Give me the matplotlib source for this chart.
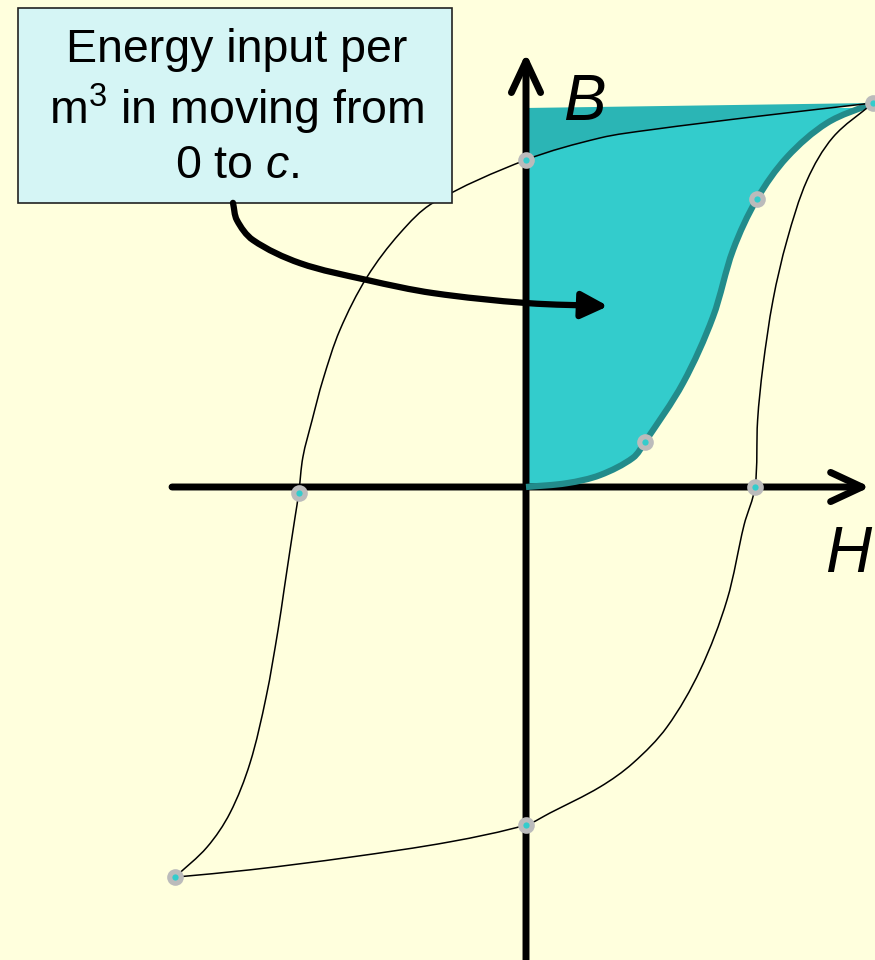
import numpy as np
import matplotlib.pyplot as plt
from matplotlib.path import Path
from matplotlib.patches import PathPatch, Rectangle, FancyArrowPatch

plt.rcParams['font.family'] = ['Liberation Sans', 'DejaVu Sans']
plt.rcParams['mathtext.fontset'] = 'custom'
plt.rcParams['mathtext.rm'] = 'Liberation Sans'
plt.rcParams['mathtext.it'] = 'Liberation Sans:italic'

# hysteresis loop, H and B in normalised units
# upper branch: from tip c down to the negative tip
down_h = [1.509, 1.017, 0.539, 0.322, 0.0, -0.404, -0.548, -0.691, -0.809, -0.883,
          -0.930, -0.970, -0.988, -1.004, -1.026, -1.052, -1.078, -1.130, -1.200,
          -1.287, -1.387, -1.526]
down_b = [1.000, 0.966, 0.930, 0.909, 0.852, 0.740, 0.661, 0.547, 0.409, 0.279,
          0.174, 0.078, -0.015, -0.078, -0.164, -0.268, -0.372, -0.547, -0.719,
          -0.849, -0.938, -1.016]

# lower branch: from the negative tip back up to c
up_h = [-1.526, -1.200, -0.765, -0.330, 0.0, 0.104, 0.322, 0.465, 0.613, 0.757,
        0.874, 0.948, 0.996, 1.007, 1.030, 1.074, 1.135, 1.222, 1.335, 1.509]
up_b = [-1.016, -0.997, -0.964, -0.924, -0.880, -0.849, -0.781, -0.719, -0.625, -0.477,
        -0.294, -0.099, 0.0, 0.174, 0.3125, 0.487, 0.643, 0.799, 0.911, 1.000]

# initial magnetisation curve 0 -> c
init_h = [0.0, 0.178, 0.322, 0.465, 0.517, 0.683, 0.813, 0.900, 1.004, 1.135, 1.309, 1.509]
init_b = [0.0, 0.010, 0.031, 0.076, 0.117, 0.271, 0.443, 0.617, 0.750, 0.859, 0.948, 1.000]
b_top = 0.987

# marked points
mark_h = [1.509, 0.0, -0.988, -1.526, 0.0, 0.996, 0.517, 1.004]
mark_b = [1.000, 0.852, -0.015, -1.016, -0.880, 0.0, 0.117, 0.750]

# callout arrow
arr_h = [-1.274, -1.257, -1.187, -0.983, -0.691, -0.404, 0.004, 0.357]
arr_b = [0.740, 0.695, 0.643, 0.583, 0.539, 0.505, 0.479, 0.471]

BG = '#ffffdd'
TEAL = '#33cccc'
TEAL_DARK = '#2bb5b5'
TEAL_LINE = '#228b8b'
SX, SY = 230, 384   # pixels per unit of H and B


def smooth(h, b):
    # chord-length catmull-rom through the points, as cubic bezier segments
    p = np.column_stack([h, b]) * [SX, SY]
    n = len(p)
    t = np.concatenate([[0], np.cumsum(np.hypot(*np.diff(p, axis=0).T))])
    m = np.zeros_like(p)
    m[0] = (p[1] - p[0]) / (t[1] - t[0])
    m[-1] = (p[-1] - p[-2]) / (t[-1] - t[-2])
    for i in range(1, n - 1):
        m[i] = (p[i + 1] - p[i - 1]) / (t[i + 1] - t[i - 1])
    verts = [p[0]]
    codes = [Path.MOVETO]
    for i in range(n - 1):
        dt = t[i + 1] - t[i]
        verts += [p[i] + m[i] * dt / 3, p[i + 1] - m[i + 1] * dt / 3, p[i + 1]]
        codes += [Path.CURVE4] * 3
    verts = [tuple(v / [SX, SY]) for v in verts]
    return verts, codes


fig = plt.figure(figsize=(8.75, 9.6), dpi=100)
fig.patch.set_facecolor(BG)
ax = fig.add_axes([0, 0, 1, 1])
ax.set_facecolor(BG)
ax.set_xlim(-526 / SX, 349 / SX)
ax.set_ylim(-473 / SY, 487 / SY)
ax.axis('off')

# shaded energy area
v, c = smooth(init_h, init_b)
v = v + [(init_h[-1], b_top), (0.0, b_top), v[0]]
c = c + [Path.LINETO, Path.LINETO, Path.CLOSEPOLY]
ax.add_patch(PathPatch(Path(v, c), facecolor=TEAL, edgecolor='none', zorder=1))

# slightly darker wedge above the upper branch
i0 = down_h.index(0.0)
v, c = smooth(down_h[:i0 + 1], down_b[:i0 + 1])
v = v + [(0.0, b_top), v[0]]
c = c + [Path.LINETO, Path.CLOSEPOLY]
ax.add_patch(PathPatch(Path(v, c), facecolor=TEAL_DARK, edgecolor='none', zorder=1.5))

# axes
axis_arrow = dict(arrowstyle='->,head_length=0.45,head_width=0.21', lw=5,
                  color='black', shrinkA=0, shrinkB=0, mutation_scale=50,
                  joinstyle='round', capstyle='round')
ax.annotate('', xy=(1.496, 0), xytext=(-1.539, 0), arrowprops=axis_arrow, zorder=2)
ax.annotate('', xy=(0, 1.130), xytext=(0, -1.25), arrowprops=axis_arrow, zorder=2)

# initial curve
v, c = smooth(init_h, init_b)
ax.add_patch(PathPatch(Path(v, c), facecolor='none', edgecolor=TEAL_LINE, lw=4.5, zorder=3))

# loop
for hh, bb in [(down_h, down_b), (up_h, up_b)]:
    v, c = smooth(hh, bb)
    ax.add_patch(PathPatch(Path(v, c), facecolor='none', edgecolor='black', lw=1.1, zorder=4))

ax.plot(mark_h, mark_b, 'o', ms=12, color='#bbbbbb', mec='none', zorder=5, clip_on=False)
ax.plot(mark_h, mark_b, 'o', ms=4.5, color=TEAL, mec='none', zorder=6, clip_on=False)

ax.text(0.252, 1.0, 'B', fontsize=46, style='italic', ha='center', va='center', zorder=6)
ax.text(1.4, -0.177, 'H', fontsize=46, style='italic', ha='center', va='center', zorder=6)

# callout box
ax.add_patch(Rectangle((18 / 875, 1 - 203 / 960), 434 / 875, 195 / 960,
                       transform=ax.transAxes, facecolor='#d5f5f5', edgecolor='#222222',
                       lw=1.2, zorder=7))
ax.text(237 / 875, 1 - 108 / 960, 'Energy input per\nm$^{3}$ in moving from\n0 to $c$.',
        transform=ax.transAxes, ha='center', va='center', fontsize=33.5,
        linespacing=1.23, zorder=8)

v, c = smooth(arr_h, arr_b)
ax.add_patch(FancyArrowPatch(path=Path(v, c), arrowstyle='-|>,head_length=0.8,head_width=0.4',
                             mutation_scale=20, lw=4.5, color='black', zorder=8))

fig.savefig('out.png', dpi=100, facecolor=BG)
